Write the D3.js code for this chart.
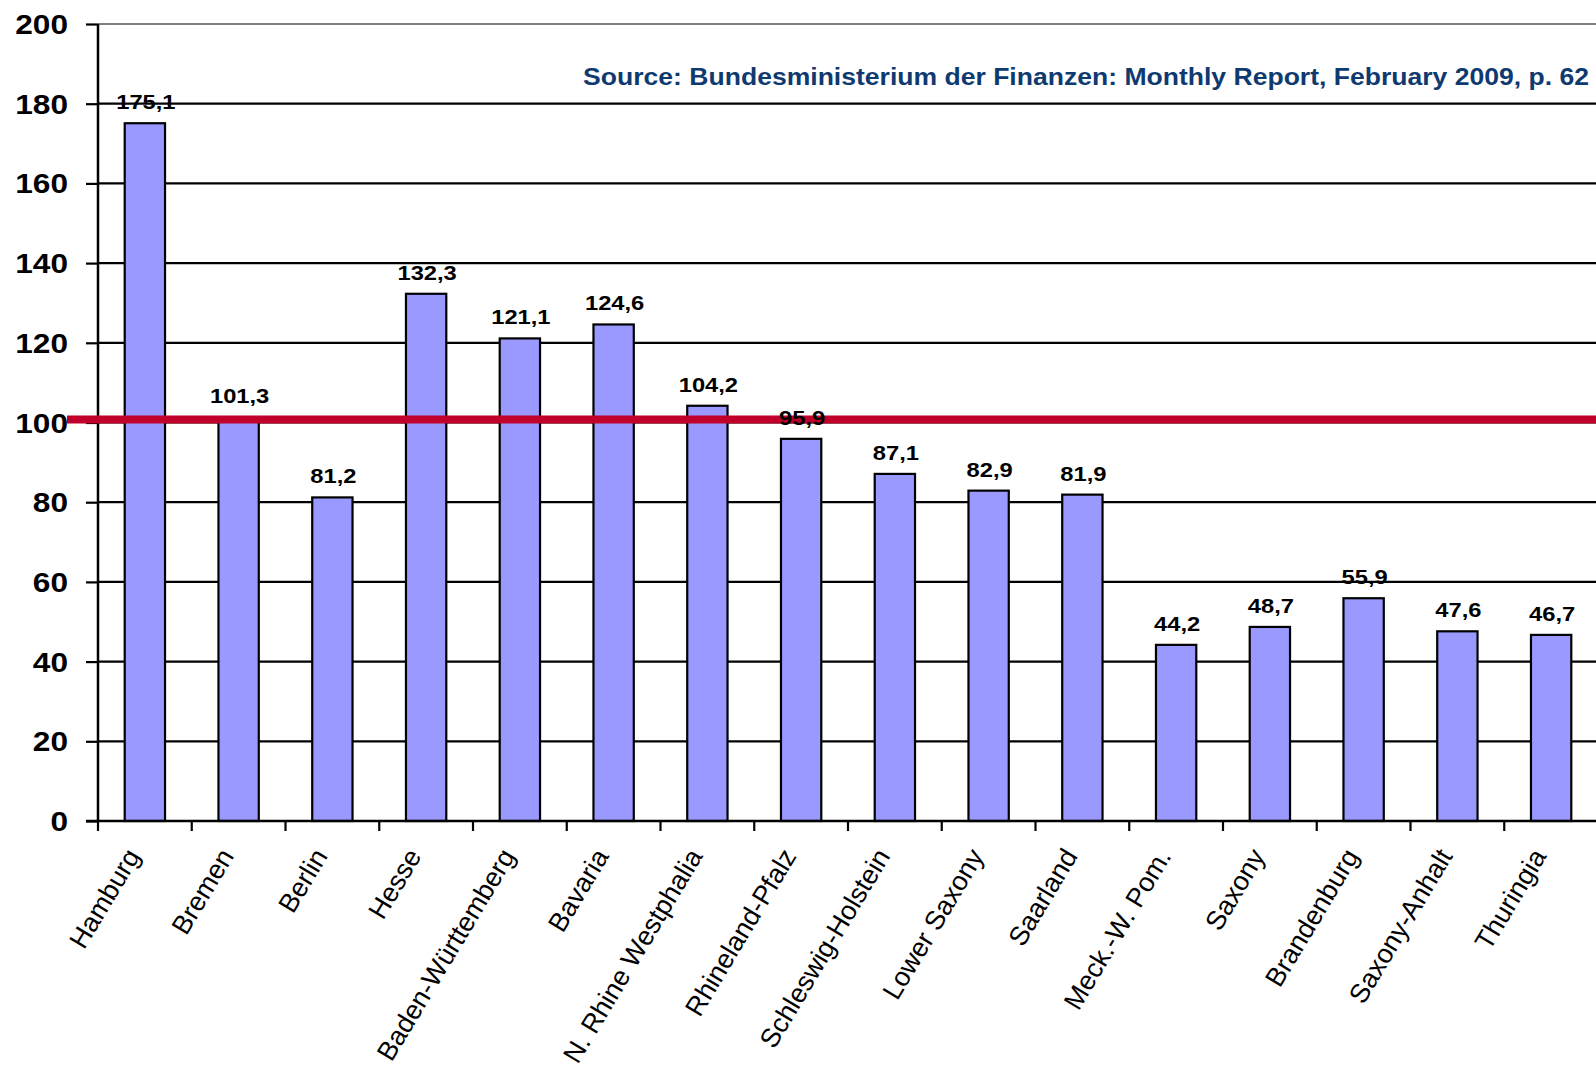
<!DOCTYPE html>
<html>
<head>
<meta charset="utf-8">
<script src="https://cdn.jsdelivr.net/npm/d3@7"></script>
<style>
  html, body { margin: 0; padding: 0; background: #fff; }
  svg { display: block; font-family: "Liberation Sans", Arial, sans-serif; }
</style>
</head>
<body>
<svg id="chart" width="1596" height="1072"></svg>
<script>
// ---- data ----
const categories = ["Hamburg", "Bremen", "Berlin", "Hesse", "Baden-Württemberg", "Bavaria",
  "N. Rhine Westphalia", "Rhineland-Pfalz", "Schleswig-Holstein", "Lower Saxony", "Saarland",
  "Meck.-W. Pom.", "Saxony", "Brandenburg", "Saxony-Anhalt", "Thuringia"];
const values = [175.1, 101.3, 81.2, 132.3, 121.1, 124.6, 104.2, 95.9, 87.1, 82.9, 81.9,
  44.2, 48.7, 55.9, 47.6, 46.7];
const valueLabels = ["175,1", "101,3", "81,2", "132,3", "121,1", "124,6", "104,2", "95,9",
  "87,1", "82,9", "81,9", "44,2", "48,7", "55,9", "47,6", "46,7"];
const yTicks = [0, 20, 40, 60, 80, 100, 120, 140, 160, 180, 200];
const benchmark = 100;
const sourceText = "Source: Bundesministerium der Finanzen: Monthly Report, February 2009, p. 62";

// ---- layout ----
const svg = d3.select("#chart");
const pLeft = 98, pRight = 1598, pTop = 24, pBottom = 821;
const stretch = 1.13; // horizontal stretch of the original lettering

const x = d3.scaleBand().domain(categories).range([pLeft, pRight]).padding(0);
const y = d3.scaleLinear().domain([0, 200]).range([pBottom, pTop]);
const barW = x.bandwidth() * 0.43;

// gridlines
svg.append("g").selectAll("line").data(yTicks.filter(t => t > 0)).join("line")
  .attr("x1", pLeft).attr("x2", 1596)
  .attr("y1", d => y(d)).attr("y2", d => y(d))
  .attr("stroke", d => d === 200 ? "#808080" : "#000")
  .attr("stroke-width", 2.2);

// y axis (ticks + domain via d3.axisLeft, labels drawn stretched)
const yAxis = d3.axisLeft(y).tickValues(yTicks).tickSize(12).tickFormat("");
const gy = svg.append("g").attr("transform", `translate(${pLeft},0)`).call(yAxis);
gy.select(".domain").attr("stroke", "#000").attr("stroke-width", 2.5).attr("d", `M0,${pTop}V${pBottom}`);
gy.selectAll(".tick line").attr("stroke", "#000").attr("stroke-width", 2.2);
svg.append("g").selectAll("text").data(yTicks).join("text")
  .attr("transform", d => `translate(68,${y(d)}) scale(${stretch},1)`)
  .attr("dy", "0.36em")
  .attr("text-anchor", "end")
  .attr("font-size", 28)
  .attr("font-weight", "bold")
  .attr("fill", "#000")
  .text(d => d3.format("d")(d));

// bars
svg.append("g").selectAll("rect").data(categories).join("rect")
  .attr("x", (d) => x(d) + (x.bandwidth() - barW) / 2)
  .attr("width", barW)
  .attr("y", (d, i) => y(values[i]))
  .attr("height", (d, i) => y(0) - y(values[i]))
  .attr("fill", "#9999FF")
  .attr("stroke", "#000")
  .attr("stroke-width", 2.2);

// x axis baseline and ticks
svg.append("line").attr("x1", pLeft - 12).attr("x2", 1596).attr("y1", pBottom).attr("y2", pBottom)
  .attr("stroke", "#000").attr("stroke-width", 2.5);
svg.append("g").selectAll("line").data(categories).join("line")
  .attr("x1", d => x(d)).attr("x2", d => x(d))
  .attr("y1", pBottom).attr("y2", pBottom + 10)
  .attr("stroke", "#000").attr("stroke-width", 2.2);

// x labels (rotated)
svg.append("g").selectAll("text").data(categories).join("text")
  .attr("transform", d => `translate(${x(d) + x.bandwidth() / 2 - 4},${pBottom + 35}) rotate(-59)`)
  .attr("text-anchor", "end")
  .attr("font-size", 26.8)
  .attr("fill", "#000")
  .text(d => d);

// benchmark line
svg.append("line")
  .attr("x1", 67).attr("x2", 1596)
  .attr("y1", y(benchmark) - 3).attr("y2", y(benchmark) - 3)
  .attr("stroke", "#C0002A").attr("stroke-width", 8);

// value labels
svg.append("g").selectAll("text").data(categories).join("text")
  .attr("transform", (d, i) => `translate(${x(d) + x.bandwidth() / 2 + 1},${y(values[i]) - 14}) scale(${stretch},1)`)
  .attr("text-anchor", "middle")
  .attr("font-size", 21)
  .attr("font-weight", "bold")
  .attr("fill", "#000")
  .text((d, i) => valueLabels[i]);

// source
svg.append("text")
  .attr("transform", `translate(1589,85) scale(${stretch},1)`)
  .attr("text-anchor", "end")
  .attr("font-size", 23.5)
  .attr("font-weight", "bold")
  .attr("fill", "#0F3A70")
  .text(sourceText);
</script>
</body>
</html>
